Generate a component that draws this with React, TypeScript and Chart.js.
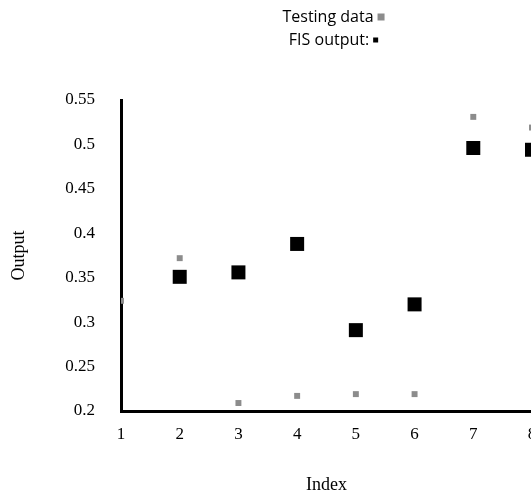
import React, { useEffect, useRef } from 'react';
import { Chart, registerables } from 'chart.js';

Chart.register(...registerables);

// ---- data ----
const testingIndex = [1, 2, 3, 4, 5, 6, 7, 8];
const testingValues = [0.324, 0.372, 0.209, 0.217, 0.219, 0.219, 0.531, 0.519];
const fisIndex = [2, 3, 4, 5, 6, 7, 8];
const fisValues = [0.351, 0.356, 0.388, 0.291, 0.32, 0.496, 0.494];
const yTickValues = [0.2, 0.25, 0.3, 0.35, 0.4, 0.45, 0.5, 0.55];
const yTickLabels = ['0.2', '0.25', '0.3', '0.35', '0.4', '0.45', '0.5', '0.55'];
const xTickValues = [1, 2, 3, 4, 5, 6, 7, 8];
const legendLabels = ['Testing data', 'FIS output:'];
const xTitle = 'Index';
const yTitle = 'Output';

const TEST_COLOR = '#8c8c8c';
const FIS_COLOR = '#000000';

const stackedLegend = {
  id: 'stackedLegend',
  afterDraw(chart: any) {
    const ctx = chart.ctx as CanvasRenderingContext2D;
    const area = chart.chartArea;
    const cx = (area.left + area.right) / 2 + 7;
    const rows = [
      { text: legendLabels[0], y: 17, size: 7, color: TEST_COLOR },
      { text: legendLabels[1], y: 40, size: 5, color: FIS_COLOR },
    ];
    ctx.save();
    ctx.font = '16px "Open Sans", sans-serif';
    ctx.textBaseline = 'middle';
    ctx.textAlign = 'left';
    for (const r of rows) {
      const w = ctx.measureText(r.text).width;
      const gap = 4;
      const total = w + gap + r.size;
      const x0 = cx - total / 2;
      ctx.fillStyle = '#000';
      ctx.fillText(r.text, x0, r.y);
      ctx.fillStyle = r.color;
      ctx.fillRect(x0 + w + gap, r.y - r.size / 2, r.size, r.size);
    }
    ctx.restore();
  },
};

export default function App() {
  const ref = useRef<HTMLCanvasElement | null>(null);

  useEffect(() => {
    if (!ref.current) return;
    const serif = 'Liberation Serif, "Times New Roman", serif';
    const chart = new Chart(ref.current, {
      type: 'scatter',
      data: {
        datasets: [
          {
            label: legendLabels[0],
            data: testingIndex.map((x, i) => ({ x, y: testingValues[i] })),
            pointStyle: 'rect',
            pointRadius: 4.2,
            pointBorderWidth: 0,
            backgroundColor: TEST_COLOR,
            borderColor: TEST_COLOR,
          },
          {
            label: legendLabels[1],
            data: fisIndex.map((x, i) => ({ x, y: fisValues[i] })),
            pointStyle: 'rect',
            pointRadius: 9.9,
            pointBorderWidth: 0,
            backgroundColor: FIS_COLOR,
            borderColor: FIS_COLOR,
          },
        ],
      },
      options: {
        responsive: false,
        animation: false,
        layout: { padding: { top: 100, right: 38, bottom: 0, left: 0 } },
        plugins: {
          legend: { display: false },
          tooltip: { enabled: false },
        },
        scales: {
          x: {
            type: 'linear',
            min: 1,
            max: 8,
            afterBuildTicks: (scale: any) => {
              scale.ticks = xTickValues.map((v) => ({ value: v }));
            },
            afterFit: (scale: any) => {
              scale.height = 85;
            },
            grid: { display: false, drawTicks: false },
            border: { display: true, color: '#000', width: 3 },
            ticks: {
              padding: 13,
              color: '#000',
              font: { family: serif, size: 17 },
              callback: (v: any) => String(v),
            },
            title: {
              display: true,
              text: xTitle,
              color: '#000',
              font: { family: serif, size: 18 },
              padding: { top: 0, bottom: 0 },
            },
          },
          y: {
            type: 'linear',
            min: 0.2,
            max: 0.55,
            afterBuildTicks: (scale: any) => {
              scale.ticks = yTickValues.map((v) => ({ value: v }));
            },
            afterFit: (scale: any) => {
              scale.width = 121;
            },
            grid: { display: false, drawTicks: false },
            border: { display: true, color: '#000', width: 3 },
            ticks: {
              padding: 26,
              color: '#000',
              font: { family: serif, size: 17 },
              callback: (v: any) => {
                const idx = yTickValues.findIndex((t) => Math.abs(t - v) < 1e-9);
                return idx >= 0 ? yTickLabels[idx] : '';
              },
            },
            title: {
              display: true,
              text: yTitle,
              color: '#000',
              font: { family: serif, size: 18 },
              padding: { top: 8, bottom: 0 },
            },
          },
        },
      },
      plugins: [stackedLegend],
    } as any);
    return () => chart.destroy();
  }, []);

  return (
    <div
      style={{
        position: 'fixed',
        left: 0,
        top: 0,
        width: 531,
        height: 496,
        overflow: 'hidden',
        background: '#fff',
      }}
    >
      <canvas ref={ref} width={570} height={496} style={{ display: 'block' }} />
    </div>
  );
}
